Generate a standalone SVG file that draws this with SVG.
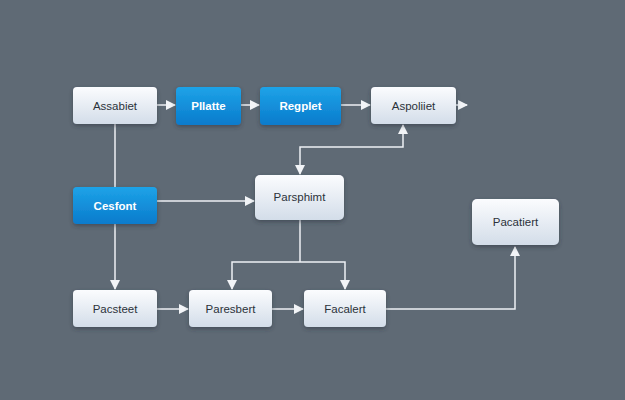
<svg xmlns="http://www.w3.org/2000/svg" width="625" height="400" viewBox="0 0 625 400">
<defs>
<linearGradient id="gw" x1="0" y1="0" x2="0" y2="1"><stop offset="0" stop-color="#fbfcfe"/><stop offset="1" stop-color="#d3dde9"/></linearGradient>
<linearGradient id="gb" x1="0" y1="0" x2="0" y2="1"><stop offset="0" stop-color="#1ea3e8"/><stop offset="1" stop-color="#0a7bcc"/></linearGradient>
<filter id="sh" x="-20%" y="-20%" width="140%" height="150%"><feDropShadow dx="0" dy="2" stdDeviation="2" flood-color="#2a333c" flood-opacity="0.5"/></filter>
<marker id="ar" viewBox="0 0 10 10" refX="9" refY="5" markerWidth="10" markerHeight="10" markerUnits="userSpaceOnUse" orient="auto"><path d="M0,0 L10,5 L0,10 z" fill="#f2f4f7"/></marker>
<style>
.w{fill:url(#gw);filter:url(#sh)}
.b{fill:url(#gb);filter:url(#sh)}
.t{font-family:"Liberation Sans",Arial,sans-serif;font-size:11.5px;fill:#2b323a;text-anchor:middle;dominant-baseline:central}
.tb{fill:#ffffff;font-weight:bold}
.c{fill:none;stroke:#eef1f5;stroke-width:1.5}
.a{marker-end:url(#ar)}
</style>
</defs>
<rect width="625" height="400" fill="#5f6a75"/>
<g id="connectors">
<path class="c a" d="M157,105 H175"/>
<path class="c a" d="M241,105 H259"/>
<path class="c a" d="M341,105 H370"/>
<path class="c a" d="M456,105 H467"/>
<path class="c a" d="M115,124 V289"/>
<path class="c a" d="M350,147 H403 V125"/>
<path class="c a" d="M350,147 H300 V174"/>
<path class="c a" d="M157,201 H254"/>
<path class="c" d="M300,220 V262"/>
<path class="c a" d="M300,262 H232 V289"/>
<path class="c a" d="M300,262 H345 V289"/>
<path class="c a" d="M157,309 H188"/>
<path class="c a" d="M272,309 H303"/>
<path class="c a" d="M386,309 H515 V247"/>
</g>
<g id="n1"><rect class="w" x="73" y="87" width="84" height="37" rx="4"/><text class="t" x="115" y="105.5">Assabiet</text></g>
<g id="n2"><rect class="b" x="176" y="87" width="65" height="38" rx="4"/><text class="t tb" x="208.5" y="106">Pllatte</text></g>
<g id="n3"><rect class="b" x="260" y="87" width="81" height="38" rx="4"/><text class="t tb" x="300.5" y="106">Regplet</text></g>
<g id="n4"><rect class="w" x="371" y="87" width="85" height="37" rx="4"/><text class="t" x="413.5" y="105.5">Aspoliiet</text></g>
<g id="n5"><rect class="b" x="73" y="187" width="84" height="37" rx="4"/><text class="t tb" x="115" y="205.5">Cesfont</text></g>
<g id="n6"><rect class="w" x="255" y="175" width="89" height="45" rx="5"/><text class="t" x="299.5" y="197">Parsphimt</text></g>
<g id="n7"><rect class="w" x="472" y="199" width="87" height="46" rx="5"/><text class="t" x="515.5" y="222">Pacatiert</text></g>
<g id="n8"><rect class="w" x="73" y="290" width="84" height="37" rx="4"/><text class="t" x="115" y="309">Pacsteet</text></g>
<g id="n9"><rect class="w" x="189" y="290" width="83" height="37" rx="4"/><text class="t" x="230.5" y="309">Paresbert</text></g>
<g id="n10"><rect class="w" x="304" y="290" width="82" height="37" rx="4"/><text class="t" x="345" y="309">Facalert</text></g>
</svg>
